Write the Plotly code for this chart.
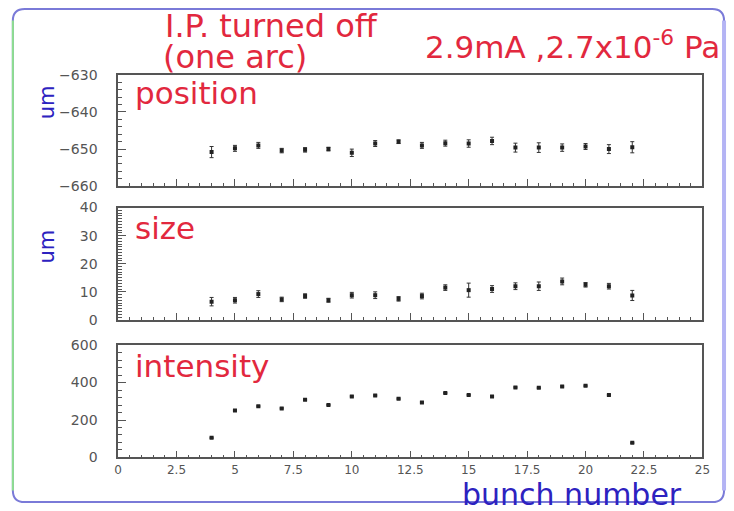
import plotly.graph_objects as go

W, H = 734, 511

bunch = [4, 5, 6, 7, 8, 9, 10, 11, 12, 13, 14, 15, 16, 17, 18, 19, 20, 21, 22]
position = [-650.8, -649.8, -649.0, -650.4, -650.2, -650.0, -651.0, -648.5, -648.0, -649.0,
            -648.4, -648.5, -647.8, -649.6, -649.6, -649.6, -649.3, -650.0, -649.5]
position_err = [1.5, 0.8, 0.8, 0.6, 0.6, 0.5, 1.0, 0.8, 0.5, 0.8,
                0.8, 1.0, 1.0, 1.2, 1.3, 1.0, 0.8, 1.2, 1.5]
size = [6.5, 7.0, 9.2, 7.3, 8.5, 7.0, 8.8, 8.8, 7.5, 8.5,
        11.5, 10.6, 11.0, 12.0, 12.0, 13.7, 12.5, 12.0, 8.7]
size_err = [1.5, 1.0, 1.2, 0.8, 0.8, 0.7, 1.0, 1.2, 0.8, 1.0,
            1.0, 2.5, 1.2, 1.2, 1.5, 1.2, 0.8, 1.0, 1.8]
intensity = [105, 251, 273, 262, 308, 280, 326, 331, 314, 294,
             344, 333, 326, 374, 372, 379, 383, 333, 78]
intensity_err = [3] * 19

x_ticks = [0, 2.5, 5, 7.5, 10, 12.5, 15, 17.5, 20, 22.5, 25]
x_tick_text = ["0", "2.5", "5", "7.5", "10", "12.5", "15", "17.5", "20", "22.5", "25"]

RED = "#e2283e"
BLUE = "#2d22c0"
AX = "#555555"
FONT = "DejaVu Sans"


def px_x(p):
    return p / W


def px_y(p):
    return 1 - p / H


x0, x1 = px_x(116), px_x(710)
panels = [(69, 184), (206, 322), (348, 464)]

fig = go.Figure()

series = [(position, position_err), (size, size_err), (intensity, intensity_err)]
for i, (vals, errs) in enumerate(series):
    n = "" if i == 0 else str(i + 1)
    fig.add_trace(go.Scatter(
        x=bunch, y=vals, mode="markers",
        marker=dict(symbol="square", size=4, color="#222222"),
        error_y=dict(type="data", array=errs, visible=True, color="#333333", thickness=1, width=2),
        xaxis="x" + n, yaxis="y" + n, showlegend=False, hoverinfo="x+y",
    ))

common_x = dict(range=[0, 25], tickvals=x_ticks, ticktext=x_tick_text, ticks="inside", ticklen=7,
                tickcolor=AX, tickwidth=1, showline=True, linecolor=AX, linewidth=1.5, mirror=True,
                showgrid=False, zeroline=False,
                minor=dict(dtick=0.5, ticks="inside", ticklen=3, tickcolor=AX, tickwidth=1),
                tickfont=dict(family=FONT, size=12, color=AX))

ranges = [[-660, -630], [0, 40], [0, 600]]
dticks = [10, 10, 200]
minors = [2, 1, 40]
layout = dict(width=W, height=H, margin=dict(l=0, r=0, t=0, b=0),
              paper_bgcolor="white", plot_bgcolor="white", showlegend=False)

for i, (top, bot) in enumerate(panels):
    n = "" if i == 0 else str(i + 1)
    xa = dict(common_x)
    xa["domain"] = [x0, x1]
    xa["anchor"] = "y" + n
    xa["showticklabels"] = (i == 2)
    xa["ticklabelstandoff"] = 0
    if i > 0:
        xa["matches"] = "x"
    layout["xaxis" + n] = xa
    layout["yaxis" + n] = dict(
        domain=[px_y(bot), px_y(top)], anchor="x" + n, range=ranges[i], dtick=dticks[i],
        tick0=ranges[i][0], ticks="inside", ticklen=8, tickcolor=AX, tickwidth=1,
        showline=True, linecolor=AX, linewidth=1.5, mirror=True, showgrid=False, zeroline=False,
        minor=dict(dtick=minors[i], tick0=ranges[i][0], ticks="inside", ticklen=4, tickcolor=AX, tickwidth=1),
        tickfont=dict(family=FONT, size=14, color=AX), ticklabelstandoff=16,
    )

fig.update_layout(**layout)


def note(text, x, y, size, color, xanchor="left", angle=0):
    fig.add_annotation(text=text, x=px_x(x), y=px_y(y), xref="paper", yref="paper",
                       xanchor=xanchor, yanchor="middle", showarrow=False, textangle=angle,
                       font=dict(family=FONT, size=size, color=color))


note("I.P. turned off", 162, 19, 32, RED)
note("(one arc)", 160, 51, 32, RED)
note("2.9mA ,2.7x10<sup>-6</sup> Pa", 730, 38, 31, RED, xanchor="right")
note("position", 131, 88, 31, RED)
note("size", 131, 227, 31, RED)
note("intensity", 131, 370, 31, RED)
note("bunch number", 464, 502, 30, BLUE)
note("um", 44, 97, 21, BLUE, xanchor="center", angle=-90)
note("um", 44, 246, 21, BLUE, xanchor="center", angle=-90)

# rounded frame around the whole picture (pixel values converted to paper coordinates)
r = 12
L, T, R, B = 9, 1, 732, 510


def P(x, y):
    return f"{px_x(x):.5f},{px_y(y):.5f}"


path = (f"M {P(L + r, T)} L {P(R - r, T)} Q {P(R, T)} {P(R, T + r)} L {P(R, B - r)} "
        f"Q {P(R, B)} {P(R - r, B)} L {P(L + r, B)} Q {P(L, B)} {P(L, B - r)} "
        f"L {P(L, T + r)} Q {P(L, T)} {P(L + r, T)} Z")
fig.add_shape(type="path", path=path, xref="paper", yref="paper",
              line=dict(color="#7a7ad8", width=2), layer="below")
# thicker lavender right edge and green left edge
fig.add_shape(type="line", x0=px_x(R), x1=px_x(R), y0=px_y(B - r), y1=px_y(T + r),
              xref="paper", yref="paper", line=dict(color="#b4b4f4", width=4), layer="below")
fig.add_shape(type="line", x0=px_x(L), x1=px_x(L), y0=px_y(B - r), y1=px_y(T + r),
              xref="paper", yref="paper", line=dict(color="#8ee08e", width=2), layer="below")

fig.write_html("out.html")
